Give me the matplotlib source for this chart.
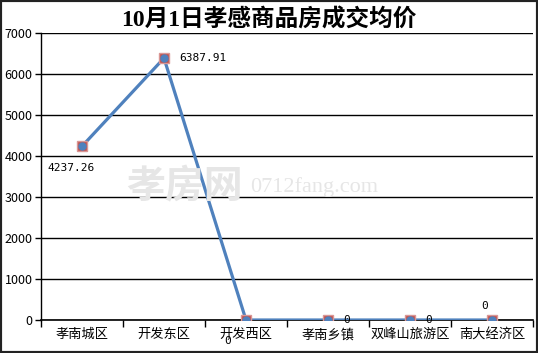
import numpy as np
import matplotlib
matplotlib.use('Agg')
import matplotlib.pyplot as plt
from matplotlib.patches import Rectangle

plt.rcParams['font.family'] = ['Noto Sans CJK SC', 'DejaVu Sans']

# 数据
areas = ['孝南城区', '开发东区', '开发西区', '孝南乡镇', '双峰山旅游区', '南大经济区']
prices = [4237.26, 6387.91, 0, 0, 0, 0]
labels = ['4237.26', '6387.91', '0', '0', '0', '0']
yticks = [0, 1000, 2000, 3000, 4000, 5000, 6000, 7000]

fig = plt.figure(figsize=(5.38, 3.53), dpi=100)
ax = fig.add_axes([0.0762, 0.0935, 0.9145, 0.813])

x = np.arange(len(areas)) + 0.5
ax.plot(x, prices, color='#4F81BD', lw=2.3, zorder=3)
ax.plot(x, prices, ls='none', marker='s', ms=7, mfc='#C0504D', mec='#D99694', mew=1, zorder=4)
ax.plot(x, prices, ls='none', marker='o', ms=5, color='#4F81BD', zorder=5)

# 数据标签位置 (pt)
offs = [(-25, -16, 'left'), (11, 0, 'left'), (-13, -15, 'center'),
        (11, 0, 'left'), (11, 0, 'left'), (-5, 10, 'center')]
for xi, yi, lab, (dx, dy, ha) in zip(x, prices, labels, offs):
    ax.annotate(lab, (xi, yi), xytext=(dx, dy), textcoords='offset points',
                ha=ha, va='center', fontsize=8, family=['DejaVu Sans Mono'], zorder=6)

ax.set_xlim(0, len(areas))
ax.set_ylim(0, 7000)
ax.set_yticks(yticks)
ax.set_yticklabels([str(v) for v in yticks], fontsize=9)
ax.set_xticks(np.arange(len(areas) + 1))
ax.set_xticklabels([])
ax.set_xticks(x, minor=True)
ax.set_xticklabels(areas, minor=True, fontsize=9.5)
ax.tick_params(axis='x', which='major', direction='out', length=5, width=1)
ax.tick_params(axis='x', which='minor', length=0, pad=6)
ax.tick_params(axis='y', direction='out', length=4, width=1, pad=2)
ax.grid(axis='y', color='black', lw=1)
for s in ['top', 'right']:
    ax.spines[s].set_visible(False)
ax.spines['left'].set_linewidth(1)
ax.spines['bottom'].set_linewidth(1.2)

fig.text(0.5, 0.942, '10月1日孝感商品房成交均价', ha='center', va='center',
         fontsize=17, fontweight='bold', family=['Liberation Serif', 'Noto Sans CJK SC'])

# 水印
fig.text(0.235, 0.47, '孝房网', fontsize=28, color='#E6E6E6', weight='bold', va='center', zorder=0)
fig.text(0.465, 0.47, '0712fang.com', fontsize=16, color='#E6E6E6', va='center',
         family=['Liberation Serif'], zorder=0)

fig.patches.append(Rectangle((0, 0), 1, 1, transform=fig.transFigure, fill=False,
                             edgecolor='#222222', lw=3))

fig.savefig('out.png', dpi=100)
